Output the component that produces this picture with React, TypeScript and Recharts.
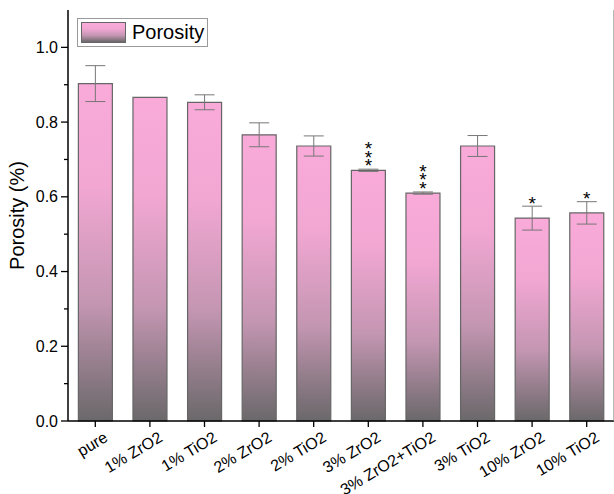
import { BarChart, Bar, XAxis, YAxis, ErrorBar, LabelList } from 'recharts';

const categories = ['pure', '1% ZrO2', '1% TiO2', '2% ZrO2', '2% TiO2', '3% ZrO2', '3% ZrO2+TiO2', '3% TiO2', '10% ZrO2', '10% TiO2'];
const porosity = [0.903, 0.866, 0.853, 0.766, 0.736, 0.671, 0.61, 0.736, 0.543, 0.557];
const porosityErr = [0.048, 0, 0.02, 0.032, 0.027, 0.003, 0.003, 0.028, 0.032, 0.03];
const significance = ['', '', '', '', '', '***', '***', '', '*', '*'];
const yTicks = [0, 0.1, 0.2, 0.3, 0.4, 0.5, 0.6, 0.7, 0.8, 0.9, 1.0];
const boundaryTicks = [1, 2, 3, 4, 5, 6, 7, 8, 9];
const rightTicks = [0, 1, 2, 3, 4, 5, 6, 7, 8, 9, 10];

const FONT = '"Liberation Sans", Arial, sans-serif';

const chartData = categories.map((name, i) => ({
  name,
  porosity: porosity[i],
  err: porosityErr[i],
  sig: significance[i],
}));

// y ticks every 0.1, only the 0.2 steps get a label and a long tick
const YTick = ({ x, y, payload }: any) => {
  const major = Math.round(payload.value * 10) % 2 === 0;
  const ax = x + 2;
  return (
    <g>
      <line x1={ax - (major ? 7 : 4)} x2={ax} y1={y} y2={y} stroke="#000" strokeWidth={1.3} />
      {major && (
        <text x={ax - 10} y={y} dy={5.5} textAnchor="end" fontSize={16} fill="#000" fontFamily={FONT}>
          {payload.value.toFixed(1)}
        </text>
      )}
    </g>
  );
};

const XTick = ({ x, y, payload }: any) => (
  <g transform={`translate(${x + 8},${y + 2})`}>
    <text x={0} y={0} dy={11} textAnchor="end" transform="rotate(-31)" fontSize={16} fill="#000" fontFamily={FONT}>
      {payload.value}
    </text>
  </g>
);

const SigLabel = ({ x, y, width, height, index, value }: any) => {
  if (!value) return null;
  const v = porosity[index];
  const e = porosityErr[index];
  const errTop = y - (height / v) * e;
  const cx = x + width / 2;
  const stars = String(value).split('');
  const n = stars.length;
  return (
    <text textAnchor="middle" fontSize={19} fontFamily={FONT} fill="#000">
      {stars.map((s, i) => (
        <tspan key={i} x={cx} y={errTop + (n > 1 ? 2.8 : 3.8) - (n - 1 - i) * 8.3}>
          {s}
        </tspan>
      ))}
    </text>
  );
};

export default function App() {
  return (
    <div style={{ position: 'absolute', left: 0, top: 0, width: 614, height: 494, background: '#fff' }}>
      <BarChart
        width={614}
        height={494}
        data={chartData}
        margin={{ top: 10, right: 0, bottom: 0, left: 0 }}
        barCategoryGap="19%"
      >
        <defs>
          <linearGradient id="poroGrad" x1="0" y1="0" x2="0" y2="1">
            <stop offset="0%" stopColor="#f9aad9" />
            <stop offset="30%" stopColor="#f2a7d3" />
            <stop offset="65%" stopColor="#c496b2" />
            <stop offset="100%" stopColor="#6a686a" />
          </linearGradient>
        </defs>
        <XAxis
          xAxisId="minor"
          type="number"
          domain={[0, 10]}
          ticks={boundaryTicks}
          allowDataOverflow
          height={0}
          tick={false}
          axisLine={false}
          tickSize={4}
          tickLine={{ stroke: '#000', strokeWidth: 1.2 }}
        />
        <XAxis
          dataKey="name"
          height={73}
          interval={0}
          tick={<XTick />}
          tickSize={6}
          axisLine={{ stroke: '#000', strokeWidth: 1.5 }}
          tickLine={{ stroke: '#000', strokeWidth: 1.3 }}
        />
        <XAxis
          xAxisId="top"
          orientation="top"
          type="number"
          domain={[0, 10]}
          ticks={boundaryTicks}
          allowDataOverflow
          height={0}
          mirror
          tick={false}
          tickSize={4}
          axisLine={{ stroke: '#000', strokeWidth: 2 }}
          tickLine={{ stroke: '#000', strokeWidth: 1.3 }}
        />
        <YAxis
          width={68}
          domain={[0, 1.1]}
          ticks={yTicks}
          interval={0}
          tickLine={false}
          tick={<YTick />}
          tickSize={0}
          axisLine={{ stroke: '#000', strokeWidth: 1.5 }}
          label={{
            value: 'Porosity (%)',
            angle: -90,
            position: 'insideLeft',
            offset: 17,
            style: { fontSize: 20, fontFamily: FONT, fill: '#000', textAnchor: 'middle' },
          }}
        />
        <YAxis
          yAxisId="right"
          orientation="right"
          width={1}
          domain={[0, 10]}
          ticks={rightTicks}
          allowDataOverflow
          mirror
          tick={false}
          tickSize={5}
          axisLine={{ stroke: '#888', strokeWidth: 1.2 }}
          tickLine={{ stroke: '#444', strokeWidth: 1.3 }}
        />
        <Bar dataKey="porosity" fill="url(#poroGrad)" stroke="#666" strokeWidth={1.2} isAnimationActive={false}>
          <ErrorBar dataKey="err" width={10} stroke="#777" strokeWidth={1} />
          <LabelList dataKey="sig" content={<SigLabel />} />
        </Bar>
      </BarChart>
      <div
        style={{
          position: 'absolute',
          left: 77,
          top: 18,
          height: 27,
          padding: '0 3px',
          border: '1px solid #9a9a9a',
          background: '#fff',
          display: 'flex',
          alignItems: 'center',
          fontFamily: FONT,
          fontSize: 20,
          color: '#000',
        }}
      >
        <div
          style={{
            width: 43,
            height: 19,
            border: '1px solid #666',
            background: 'linear-gradient(#f9aad9 0%, #f2a7d3 30%, #c496b2 65%, #6a686a 100%)',
            marginRight: 6,
          }}
        />
        <span>Porosity</span>
      </div>
    </div>
  );
}
